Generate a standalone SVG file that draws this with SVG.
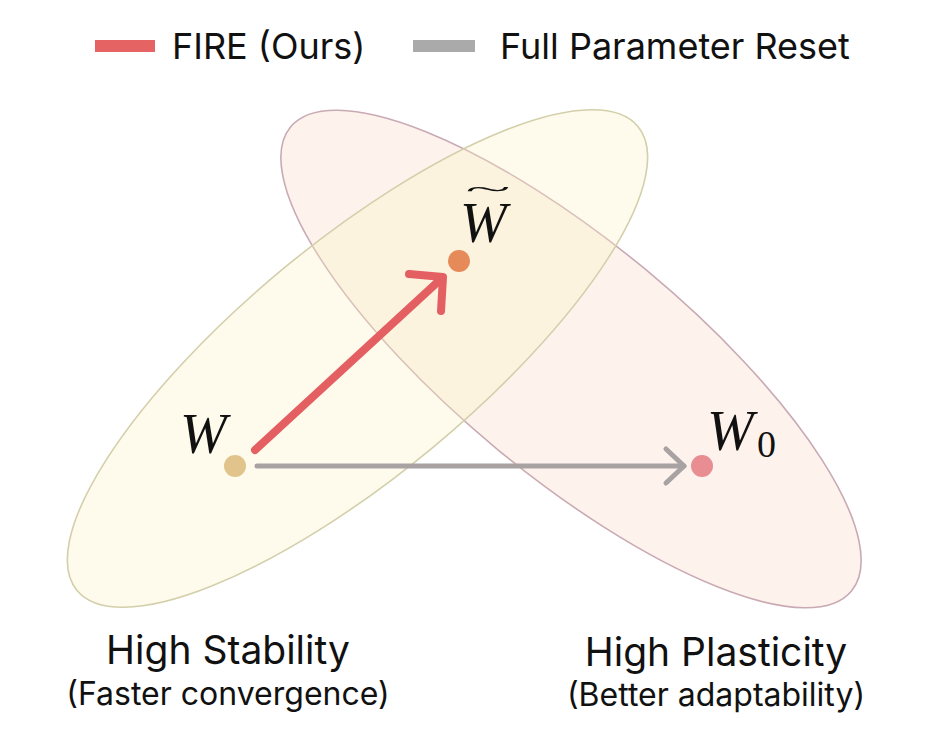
<svg xmlns="http://www.w3.org/2000/svg" width="928" height="736" viewBox="0 0 928 736">
<style>
.lbl{font-family:Inter,"Noto Sans","Liberation Sans",sans-serif;fill:#111;text-anchor:middle}
.leg{font-family:Inter,"Noto Sans","Liberation Sans",sans-serif;fill:#111;font-size:36px}
.math{font-family:"Liberation Serif","DejaVu Serif",serif;font-style:italic;fill:#111}
.num{font-family:"Liberation Serif","DejaVu Serif",serif;fill:#111}
</style>
<rect width="928" height="736" fill="#ffffff"/>
<g id="legend">
  <rect x="95" y="40" width="60" height="12" fill="#e56363"/>
  <text class="leg" x="172" y="59">FIRE (Ours)</text>
  <rect x="413" y="40" width="62" height="12" fill="#aaaaaa"/>
  <text class="leg" x="500" y="59">Full Parameter Reset</text>
</g>
<g id="plasticity-region">
  <ellipse cx="571" cy="359" rx="364" ry="116.5" transform="rotate(39.6 571 359)" fill="#fbe0d0" fill-opacity="0.4" stroke="#c9aab4" stroke-width="1.6"/>
</g>
<g id="stability-region">
  <ellipse cx="357.5" cy="358.5" rx="364" ry="116.5" transform="rotate(-39.6 357.5 358.5)" fill="#fdf4c4" fill-opacity="0.32" stroke="#d3cfab" stroke-width="1.6"/>
</g>
<g id="connectors" fill="none" stroke-linecap="round" stroke-linejoin="round">
  <g id="fire-arrow" stroke="#e45f62" stroke-width="8">
    <line x1="255" y1="450" x2="442" y2="278"/>
    <polyline points="409,274 443,277 441,311"/>
  </g>
  <g id="reset-arrow" stroke="#a8a2a3" stroke-width="5">
    <line x1="257" y1="466" x2="684" y2="466"/>
    <polyline points="666,449 684,466 666,483"/>
  </g>
</g>
<g id="node-W">
  <circle cx="235" cy="466" r="11" fill="#e0c48c"/>
  <text class="math" x="180" y="453" font-size="56">W</text>
</g>
<g id="node-Wtilde">
  <circle cx="459" cy="261" r="11" fill="#e58a58"/>
  <text class="math" x="460" y="242" font-size="56">W</text>
  <text class="num" x="0" y="0" font-size="28" transform="translate(488 198) scale(3 1)" text-anchor="middle">~</text>
</g>
<g id="node-W0">
  <circle cx="702" cy="466" r="11" fill="#e88d92"/>
  <text class="math" x="707" y="450" font-size="56">W</text>
  <text class="num" x="757" y="457" font-size="38">0</text>
</g>
<g id="label-stability">
  <text class="lbl" x="228" y="664" font-size="39">High Stability</text>
  <text class="lbl" x="228" y="705" font-size="32">(Faster convergence)</text>
</g>
<g id="label-plasticity">
  <text class="lbl" x="716" y="666" font-size="39">High Plasticity</text>
  <text class="lbl" x="716" y="706" font-size="32">(Better adaptability)</text>
</g>
</svg>
